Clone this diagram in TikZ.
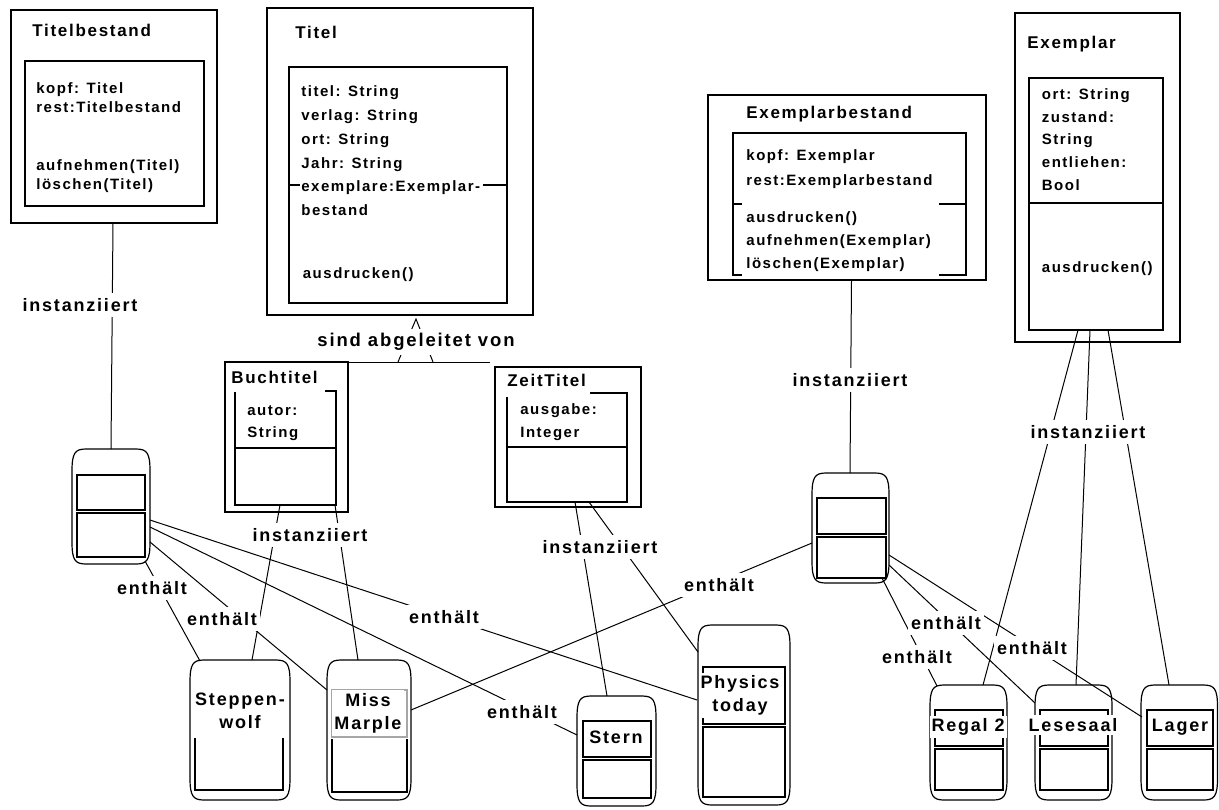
\documentclass[tikz,border=0pt]{standalone}
\usepackage{fontspec}
\setmainfont{Liberation Sans}[LetterSpace=10]
\usetikzlibrary{fit}
\newcommand\myfT{\bfseries\fontsize{8.5}{10}\selectfont}
\newcommand\myfB[1]{\bfseries\fontsize{7.5}{#1}\selectfont}
\newcommand\myfL{\bfseries\fontsize{9}{11.5}\selectfont}
\newcommand\mytopstrut{\rule{0pt}{6pt}}
\newcommand\objframe[1]{%
 \draw[line width=0.6pt] ([yshift=-11pt]#1.north west) .. controls ([yshift=-2pt]#1.north west) and ([xshift=1.5pt]#1.north west) .. ([xshift=7pt]#1.north west)
  -- ([xshift=-7pt]#1.north east) .. controls ([xshift=-1.5pt]#1.north east) and ([yshift=-2pt]#1.north east) .. ([yshift=-11pt]#1.north east)
  -- ([yshift=11pt]#1.south east) .. controls ([yshift=2pt]#1.south east) and ([xshift=-1.5pt]#1.south east) .. ([xshift=-7pt]#1.south east)
  -- ([xshift=7pt]#1.south west) .. controls ([xshift=1.5pt]#1.south west) and ([yshift=2pt]#1.south west) .. ([yshift=11pt]#1.south west) -- cycle;}
\begin{document}
\begin{tikzpicture}[x=0.5pt,y=-0.5pt,
  clsframe/.style={draw, line width=0.7pt, inner sep=0pt, outer sep=0pt},
  ghost/.style={draw=none, inner sep=0pt, outer sep=0pt},
  compbox/.style={draw, line width=0.6pt, inner sep=0pt, outer sep=0pt},
  clstitle/.style={font=\myfT, anchor=base west, inner sep=0pt},
  clsbody/.style={anchor=north west, align=left, inner sep=0pt},
  conn/.style={line width=0.5pt},
  lbl/.style={font=\myfL, fill=white, inner xsep=1.5pt, inner ysep=2.5pt},
  objtxt/.style={font=\myfL, fill=white, align=center, inner xsep=1pt, inner ysep=1.5pt}]
\useasboundingbox (0,0) rectangle (1219,809);

% ---------- Titelbestand
\node[clsframe, fit={(11,10)(217,223)}] (tb) {};
\node[clsframe, fit={(25,61)(204,206)}] (tbin) {};
\node[clstitle] (tbt) at (32,36.5) {Titelbestand};
\node[clsbody, font={\myfB{9.5}}] (tba) at (36,81) {\mytopstrut kopf: Titel\\rest:Titelbestand};
\node[clsbody, font={\myfB{9.5}}] (tbm) at (36,158.5) {\mytopstrut aufnehmen(Titel)\\löschen(Titel)};

% ---------- Titel
\node[clsframe, fit={(267,8)(533,315)}] (ti) {};
\node[clsframe, fit={(289,67)(507,303)}] (tiin) {};
\draw[line width=0.6pt] (289,185) -- (300,185);
\draw[line width=0.6pt] (483,185) -- (507,185);
\node[clstitle] (tit) at (295,38.3) {Titel};
\node[clsbody, font={\myfB{11.85}}] (tia) at (301,84.5) {\mytopstrut titel: String\\verlag: String\\ort: String\\Jahr: String\\exemplare:Exemplar-\\bestand};
\node[clsbody, font={\myfB{11}}] (tim) at (302.5,266) {\mytopstrut ausdrucken()};

% ---------- Exemplarbestand
\node[clsframe, fit={(708,95)(986,280)}] (eb) {};
\draw[line width=0.6pt] (742,275) -- (733,275) -- (733,133) -- (966,133) -- (966,275) -- (939,275);
\draw[line width=0.6pt] (733,204) -- (742,204);
\draw[line width=0.6pt] (939,204) -- (966,204);
\node[clstitle] (ebt) at (746,118) {Exemplarbestand};
\node[clsbody, font={\myfB{12.5}}] (eba) at (746,148) {\mytopstrut kopf: Exemplar\\rest:Exemplarbestand};
\node[clsbody, font={\myfB{11.5}}] (ebm) at (746,210) {\mytopstrut ausdrucken()\\aufnehmen(Exemplar)\\löschen(Exemplar)};

% ---------- Exemplar
\node[clsframe, fit={(1015,13)(1180,342)}] (ex) {};
\node[clsframe, fit={(1029,78)(1163,330)}] (exin) {};
\draw[line width=0.6pt] (1029,203) -- (1163,203);
\node[clstitle] (ext) at (1027,48.5) {Exemplar};
\node[clsbody, font={\myfB{11.35}}] (exa) at (1041.5,87) {\mytopstrut ort: String\\zustand:\\String\\entliehen:\\Bool};
\node[clsbody, font={\myfB{11}}] (exm) at (1041.5,260.5) {\mytopstrut ausdrucken()};

% ---------- Buchtitel
\node[clsframe, fit={(225,362)(348,512)}] (bt) {};
\draw[line width=0.6pt] (325,391) -- (336,391) -- (336,505) -- (235,505) -- (235,392);
\draw[line width=0.6pt] (235,448) -- (336,448);
\node[clstitle] (btt) at (231,383) {Buchtitel};
\node[clsbody, font={\myfB{11}}] (bta) at (247,403) {\mytopstrut autor:\\String};

% ---------- ZeitTitel
\node[clsframe, fit={(495,367)(641,507)}] (zt) {};
\draw[line width=0.6pt] (590,393) -- (627,393) -- (627,502) -- (507,502) -- (507,397);
\draw[line width=0.6pt] (507,447) -- (627,447);
\node[clstitle] (ztt) at (507,386.7) {ZeitTitel};
\node[clsbody, font={\myfB{11.1}}] (zta) at (520,402.5) {\mytopstrut ausgabe:\\Integer};

% ---------- object instances
\node[ghost, fit={(72,449)(150,564)}] (tbi) {};
\objframe{tbi}
\node[compbox, fit={(77,475)(145,510)}] (tbi-a) {};
\node[compbox, fit={(77,513)(145,557)}] (tbi-b) {};

\node[ghost, fit={(812,473)(889,583)}] (ebi) {};
\objframe{ebi}
\node[compbox, fit={(817,498)(886,534)}] (ebi-a) {};
\node[compbox, fit={(817,537)(886,578)}] (ebi-b) {};

\node[ghost, fit={(190,660)(290,800)}] (sw) {};
\objframe{sw}
\draw[line width=0.6pt] (195,738) -- (195,790) -- (283,790) -- (283,738);

\node[ghost, fit={(327,660)(411,800)}] (mm) {};
\objframe{mm}
\node[compbox, draw=black!35, fit={(332,690)(407,737)}] (mm-a) {};
\draw[line width=0.6pt] (332,739) -- (332,792) -- (407,792) -- (407,739);

\node[ghost, fit={(577,696)(656,806)}] (st) {};
\objframe{st}
\node[compbox, fit={(583,721)(651,757)}] (st-a) {};
\node[compbox, fit={(583,760)(651,798)}] (st-b) {};

\node[ghost, fit={(698,625)(790,805)}] (pt) {};
\objframe{pt}
\node[compbox, fit={(703,667)(785,724)}] (pt-a) {};
\node[compbox, fit={(703,727)(785,797)}] (pt-b) {};

\node[ghost, fit={(930,685)(1007,800)}] (rg) {};
\objframe{rg}
\node[compbox, fit={(935,710)(1003,746)}] (rg-a) {};
\node[compbox, fit={(935,749)(1003,790)}] (rg-b) {};

\node[ghost, fit={(1035,685)(1112,800)}] (ls) {};
\objframe{ls}
\node[compbox, fit={(1040,710)(1108,746)}] (ls-a) {};
\node[compbox, fit={(1040,749)(1108,790)}] (ls-b) {};

\node[ghost, fit={(1141,685)(1217.5,800)}] (lg) {};
\objframe{lg}
\node[compbox, fit={(1147,710)(1213,746)}] (lg-a) {};
\node[compbox, fit={(1147,749)(1213,790)}] (lg-b) {};

% ---------- connector end points
\coordinate (tb-s) at (113,223);
\coordinate (tbi-n) at (111,449);
\coordinate (eb-s) at (851.5,280);
\coordinate (ebi-n) at (850,473);
\coordinate (gen-apex) at (416,319);
\coordinate (gen-l) at (398,362);
\coordinate (gen-r) at (433,362);
\coordinate (zt-w) at (490,362);
\coordinate (bt-s1) at (280,505);
\coordinate (bt-s2) at (335,505);
\coordinate (sw-n) at (252,660);
\coordinate (mm-n) at (358,660);
\coordinate (zt-s1) at (575,502);
\coordinate (zt-s2) at (589,502);
\coordinate (st-n) at (607,696);
\coordinate (pt-nw) at (698,652);
\coordinate (ex-s1) at (1078,330);
\coordinate (ex-s2) at (1090,330);
\coordinate (ex-s3) at (1108,330);
\coordinate (rg-n) at (983,685);
\coordinate (ls-n) at (1076,685);
\coordinate (lg-n) at (1169,685);
\coordinate (tbi-e1) at (150,520);
\coordinate (tbi-e2) at (150,527);
\coordinate (tbi-e3) at (150,542);
\coordinate (tbi-se) at (145,561);
\coordinate (pt-w) at (697,700);
\coordinate (st-w) at (577,735);
\coordinate (mm-w) at (327,690);
\coordinate (sw-nw) at (200,661);
\coordinate (ebi-w) at (812,543);
\coordinate (mm-e) at (411,710);
\coordinate (ebi-se) at (882,578);
\coordinate (ebi-e2) at (889,565);
\coordinate (ebi-e1) at (889,555);
\coordinate (rg-nw) at (937,686);
\coordinate (ls-w) at (1035,703);
\coordinate (lg-w) at (1142,717);

% ---------- connectors
\draw[conn] (tb-s) -- (tbi-n);
\draw[conn] (eb-s) -- (ebi-n);
\draw[conn] (bt.north east) -- (zt-w);
\draw[conn] (gen-l) -- (gen-apex) -- (gen-r);
\draw[conn] (bt-s1) -- (sw-n);
\draw[conn] (bt-s2) -- (mm-n);
\draw[conn] (zt-s1) -- (st-n);
\draw[conn] (zt-s2) -- (pt-nw);
\draw[conn] (ex-s1) -- (rg-n);
\draw[conn] (ex-s2) -- (ls-n);
\draw[conn] (ex-s3) -- (lg-n);
\draw[conn] (tbi-e1) -- (pt-w);
\draw[conn] (tbi-e2) -- (st-w);
\draw[conn] (tbi-e3) -- (mm-w);
\draw[conn] (tbi-se) -- (sw-nw);
\draw[conn] (ebi-w) -- (mm-e);
\draw[conn] (ebi-se) -- (rg-nw);
\draw[conn] (ebi-e2) -- (ls-w);
\draw[conn] (ebi-e1) -- (lg-w);

% ---------- labels
\node[lbl] (l-tb) at (80,305) {instanziiert};
\node[lbl] (l-bt) at (310,535) {instanziiert};
\node[lbl] (l-zt) at (600,547) {instanziiert};
\node[lbl] (l-eb) at (850,380) {instanziiert};
\node[lbl] (l-ex) at (1088,432) {instanziiert};
\node[lbl, inner ysep=2pt, font=\bfseries\fontsize{9.25}{11}\selectfont] (l-gen) at (416,342) {sind abgeleitet von};
\node[lbl] (e1) at (152,588) {enthält};
\node[lbl] (e2) at (222,619) {enthält};
\node[lbl] (e3) at (444,617) {enthält};
\node[lbl] (e4) at (719,585) {enthält};
\node[lbl] (e5) at (522,712) {enthält};
\node[lbl] (e6) at (917,657) {enthält};
\node[lbl] (e7) at (946,623) {enthält};
\node[lbl] (e8) at (1032,648) {enthält};

% ---------- object names
\node[objtxt, inner ysep=3pt] (t-sw) at (240,711) {Steppen-\\wolf};
\node[objtxt] (t-mm) at (368,713) {Miss\\Marple};
\node[objtxt] (t-st) at (616,737.5) {Stern};
\node[objtxt] (t-pt) at (740,695.5) {Physics\\today};
\node[objtxt] (t-rg) at (968,727) {Regal 2};
\node[objtxt] (t-ls) at (1073,725) {Lesesaal};
\node[objtxt] (t-lg) at (1180,727) {Lager};
\end{tikzpicture}
\end{document}
